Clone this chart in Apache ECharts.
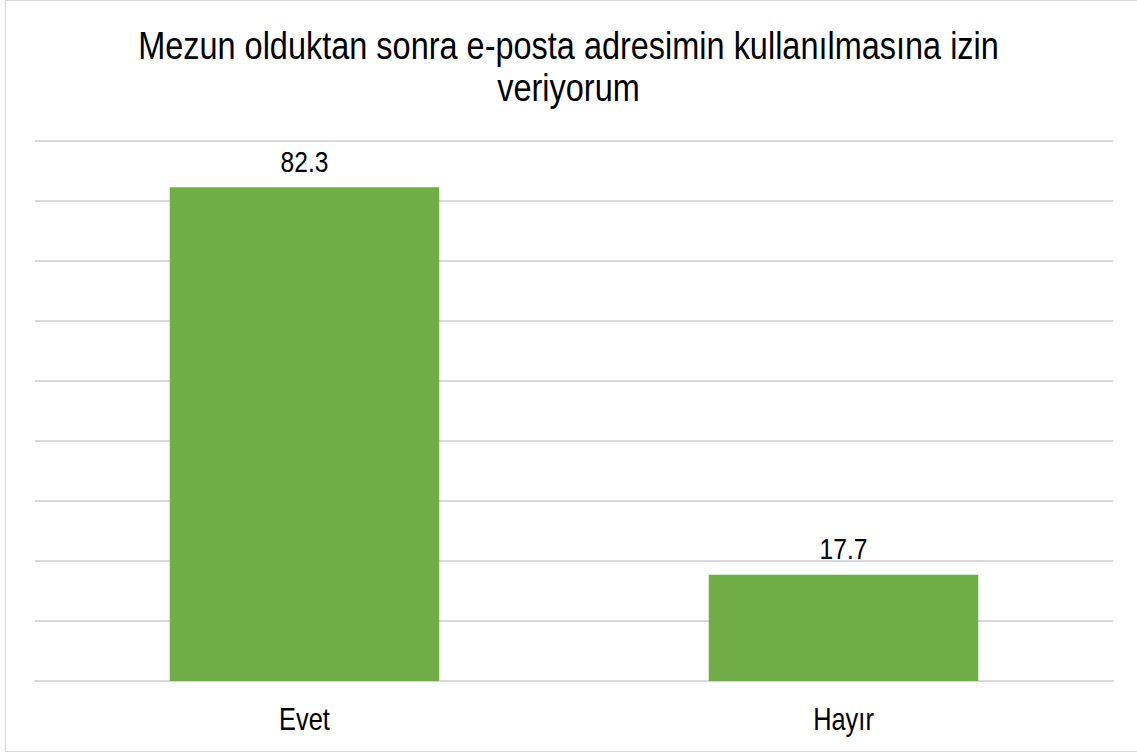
<!DOCTYPE html>
<html>
<head>
<meta charset="utf-8">
<script src="https://cdn.jsdelivr.net/npm/echarts@6/dist/echarts.min.js"></script>
<style>
html,body{margin:0;padding:0;overflow:hidden;background:#fff;width:1137px;height:755px;}
#frame{position:absolute;left:5px;top:0;width:1140px;height:752px;border:1px solid #d9d9d9;box-sizing:border-box;}
#chart{position:absolute;left:0;top:0;height:755px;transform-origin:0 0;}
</style>
</head>
<body>
<div id="frame"></div>
<div id="chart"></div>
<script>
const titleText = "Mezun olduktan sonra e-posta adresimin kullanılmasına izin\nveriyorum";
const categories = ["Evet", "Hayır"];
const values = [82.3, 17.7];
const yMin = 0, yMax = 90, yInterval = 10;
const FONT = "'Liberation Sans', Arial, sans-serif";

// Narrow-looking text: draw at wider canvas, then condense horizontally
const SX = 0.82;
const W = 1137 / SX;
const el = document.getElementById('chart');
el.style.width = W + 'px';
el.style.transform = 'scaleX(' + SX + ')';

const chart = echarts.init(el, null, {renderer: 'svg', width: W, height: 755});
chart.setOption({
  backgroundColor: 'transparent',
  animation: false,
  title: {
    text: titleText,
    left: 'center',
    top: 19,
    textStyle: {fontFamily: FONT, fontSize: 39.6, fontWeight: 'normal', color: '#000', lineHeight: 42}
  },
  grid: {left: 35 / SX, right: 24 / SX, top: 141, bottom: 74, containLabel: false},
  xAxis: {
    type: 'category',
    data: categories,
    axisLine: {show: true, lineStyle: {color: '#d9d9d9', width: 2}},
    axisTick: {show: false},
    axisLabel: {fontFamily: FONT, fontSize: 31, color: '#000', margin: 23}
  },
  yAxis: {
    type: 'value',
    min: yMin, max: yMax, interval: yInterval,
    axisLabel: {show: false},
    axisLine: {show: false},
    axisTick: {show: false},
    splitLine: {lineStyle: {color: '#d9d9d9', width: 2}}
  },
  series: [{
    type: 'bar',
    data: values,
    barWidth: '50%',
    itemStyle: {color: '#70ad47'},
    label: {show: true, position: 'top', distance: 11, fontFamily: FONT, fontSize: 30, color: '#000', formatter: p => p.value.toFixed(1)}
  }]
});
</script>
</body>
</html>
